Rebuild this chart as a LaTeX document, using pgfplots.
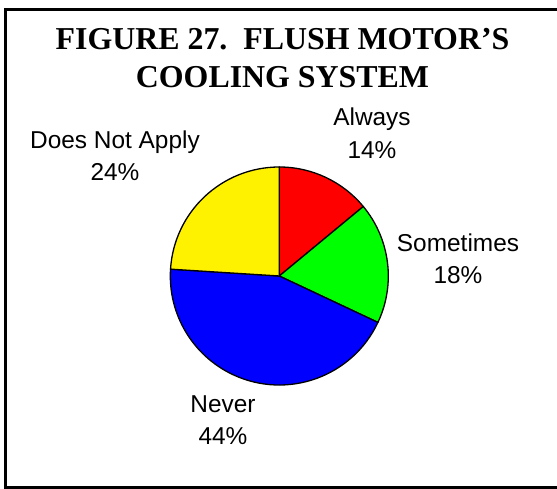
\documentclass[border=0pt]{standalone}
\usepackage{fontspec}
\setmainfont{Liberation Serif}
\newfontfamily\arial{Liberation Sans}
\usepackage{pgfplots}
\usepackage{pgfplotstable}
\pgfplotsset{compat=1.18}

\pgfplotstableread{
label pct
Always 14
Sometimes 18
Never 44
DoesNotApply 24
}\piedata

\begin{document}
\begin{tikzpicture}[x=1bp,y=1bp]
\path[use as bounding box] (0,0) rectangle (557,489);
\clip (0,0) rectangle (557,489);
\draw[line width=3bp, black] (5.7,1.5) rectangle (575,479.5);
\begin{axis}[
  at={(0,0)}, anchor=south west,
  x=1bp, y=1bp,
  xmin=0, xmax=557, ymin=0, ymax=489,
  hide axis, clip=false,
]
\pgfplotsextra{
  \gdef\cumul{0}
  \foreach \i/\col in {0/red,1/green,2/blue,3/yellow}{
    \pgfplotstablegetelem{\i}{pct}\of\piedata
    \pgfmathsetmacro\sa{90-3.6*\cumul}
    \pgfmathsetmacro\ea{90-3.6*(\cumul+\pgfplotsretval)}
    \filldraw[fill=\col, draw=black, line width=1.3bp, line join=round]
      (axis cs:279.3,213) -- ++(\sa:109bp) arc[start angle=\sa, end angle=\ea, radius=109bp] -- cycle;
    \pgfmathsetmacro\newc{\cumul+\pgfplotsretval}
    \xdef\cumul{\newc}
  }
}
\node[anchor=base, font=\bfseries\fontsize{32}{38}\selectfont] at (axis cs:282.5,439.7) {FIGURE 27.\ \ FLUSH MOTOR’S};
\node[anchor=base, font=\bfseries\fontsize{32}{38}\selectfont] at (axis cs:282.5,401.7) {COOLING SYSTEM};
\tikzset{lbl/.style={anchor=base, inner sep=0pt, font=\arial\fontsize{24.5}{28}\selectfont}}
\node[lbl] at (axis cs:372,363) {Always};
\node[lbl] at (axis cs:372,330.7) {14\%};
\node[lbl] at (axis cs:458,237.3) {Sometimes};
\node[lbl] at (axis cs:458,205.7) {18\%};
\node[lbl] at (axis cs:223,76.4) {Never};
\node[lbl] at (axis cs:223,44) {44\%};
\node[lbl] at (axis cs:115,340.7) {Does Not Apply};
\node[lbl] at (axis cs:115,308.3) {24\%};
\end{axis}
\end{tikzpicture}
\end{document}
